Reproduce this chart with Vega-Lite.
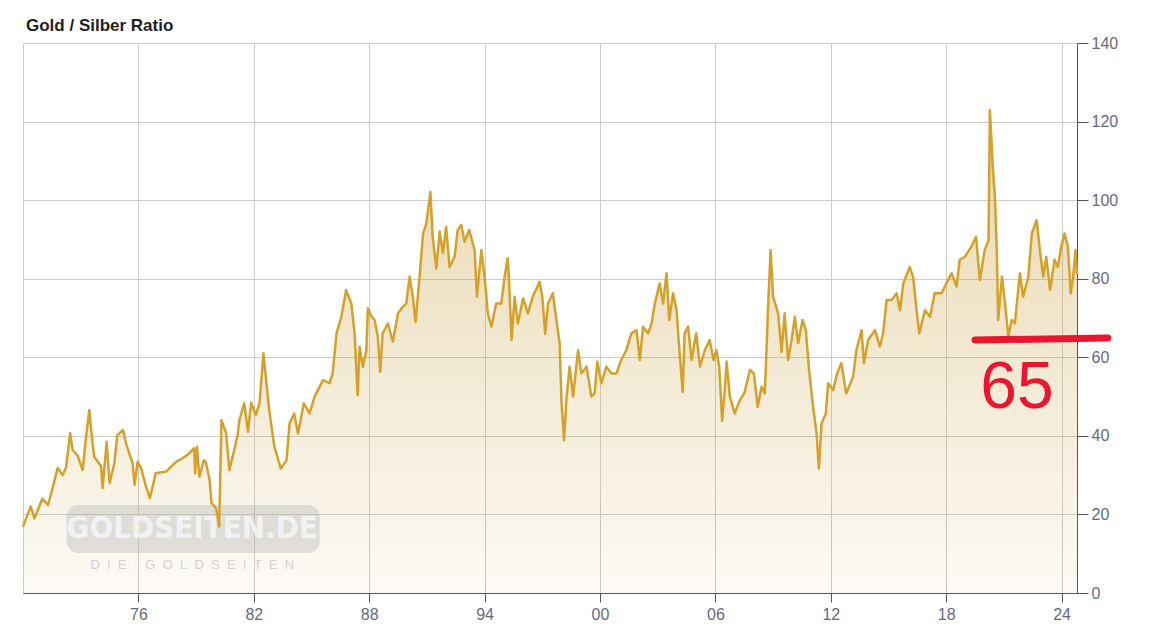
{
  "$schema": "https://vega.github.io/schema/vega-lite/v6.json",
  "width": 1054,
  "height": 550,
  "autosize": {"type": "none"},
  "padding": {"left": 23, "top": 43, "right": 73, "bottom": 44},
  "background": "white",
  "title": {"text": "Gold / Silber Ratio", "anchor": "start", "frame": "group", "fontSize": 17, "font": "Liberation Sans", "fontWeight": "bold", "color": "#1e1e24", "offset": 0, "dx": 3},
  "config": {"view": {"stroke": null}},
  "datasets": {
    "ratio": [
      {"year": 1970.0, "ratio": 16.9}, {"year": 1970.4, "ratio": 22}, {"year": 1970.6, "ratio": 19}, {"year": 1971.0, "ratio": 24},
      {"year": 1971.3, "ratio": 22.4}, {"year": 1971.5, "ratio": 26}, {"year": 1971.8, "ratio": 31.8}, {"year": 1972.06, "ratio": 30},
      {"year": 1972.24, "ratio": 32}, {"year": 1972.45, "ratio": 40.7}, {"year": 1972.58, "ratio": 36.4}, {"year": 1972.84, "ratio": 35},
      {"year": 1973.1, "ratio": 31.3}, {"year": 1973.28, "ratio": 39.8}, {"year": 1973.45, "ratio": 46.6}, {"year": 1973.54, "ratio": 41.5},
      {"year": 1973.7, "ratio": 34.7}, {"year": 1974.06, "ratio": 32.3}, {"year": 1974.14, "ratio": 26.7}, {"year": 1974.35, "ratio": 38.5},
      {"year": 1974.5, "ratio": 28}, {"year": 1974.75, "ratio": 33}, {"year": 1974.9, "ratio": 40.2}, {"year": 1975.2, "ratio": 41.5},
      {"year": 1975.36, "ratio": 38}, {"year": 1975.7, "ratio": 33}, {"year": 1975.8, "ratio": 27.5}, {"year": 1975.96, "ratio": 33.4},
      {"year": 1976.14, "ratio": 31.8}, {"year": 1976.4, "ratio": 27}, {"year": 1976.6, "ratio": 24.2}, {"year": 1976.9, "ratio": 30.5},
      {"year": 1977.44, "ratio": 30.9}, {"year": 1977.96, "ratio": 33.4}, {"year": 1978.3, "ratio": 34.3}, {"year": 1978.65, "ratio": 35.6},
      {"year": 1978.9, "ratio": 36.9}, {"year": 1978.95, "ratio": 30.5}, {"year": 1979.05, "ratio": 37.2}, {"year": 1979.17, "ratio": 29.6},
      {"year": 1979.4, "ratio": 33.8}, {"year": 1979.5, "ratio": 33.4}, {"year": 1979.7, "ratio": 28.8}, {"year": 1979.8, "ratio": 22.9},
      {"year": 1980.04, "ratio": 21.6}, {"year": 1980.2, "ratio": 16.9}, {"year": 1980.32, "ratio": 44}, {"year": 1980.56, "ratio": 40.7},
      {"year": 1980.73, "ratio": 31.3}, {"year": 1981.0, "ratio": 36.8}, {"year": 1981.16, "ratio": 40.2}, {"year": 1981.25, "ratio": 44},
      {"year": 1981.5, "ratio": 48.3}, {"year": 1981.7, "ratio": 41}, {"year": 1981.86, "ratio": 48.5}, {"year": 1982.1, "ratio": 45.3},
      {"year": 1982.3, "ratio": 48.3}, {"year": 1982.5, "ratio": 61}, {"year": 1982.64, "ratio": 54.2}, {"year": 1982.8, "ratio": 46.6},
      {"year": 1983.07, "ratio": 37.2}, {"year": 1983.4, "ratio": 31.7}, {"year": 1983.7, "ratio": 33.8}, {"year": 1983.86, "ratio": 43.2},
      {"year": 1984.1, "ratio": 45.7}, {"year": 1984.3, "ratio": 40.6}, {"year": 1984.6, "ratio": 48.3}, {"year": 1984.9, "ratio": 45.7},
      {"year": 1985.16, "ratio": 50}, {"year": 1985.6, "ratio": 54.2}, {"year": 1985.94, "ratio": 53.4}, {"year": 1986.1, "ratio": 55.9},
      {"year": 1986.3, "ratio": 66.1}, {"year": 1986.55, "ratio": 70.3}, {"year": 1986.8, "ratio": 77.1}, {"year": 1987.07, "ratio": 73.7},
      {"year": 1987.24, "ratio": 66.1}, {"year": 1987.4, "ratio": 50.4}, {"year": 1987.5, "ratio": 62.7}, {"year": 1987.67, "ratio": 57.6},
      {"year": 1987.85, "ratio": 61.8}, {"year": 1987.93, "ratio": 72.5}, {"year": 1988.1, "ratio": 70.5}, {"year": 1988.28, "ratio": 69.5},
      {"year": 1988.45, "ratio": 65.2}, {"year": 1988.57, "ratio": 56.3}, {"year": 1988.7, "ratio": 66.1}, {"year": 1988.97, "ratio": 68.6},
      {"year": 1989.23, "ratio": 64}, {"year": 1989.5, "ratio": 71.2}, {"year": 1989.75, "ratio": 72.9}, {"year": 1989.93, "ratio": 73.7},
      {"year": 1990.1, "ratio": 80.5}, {"year": 1990.27, "ratio": 75.4}, {"year": 1990.41, "ratio": 69}, {"year": 1990.62, "ratio": 80.5},
      {"year": 1990.8, "ratio": 91.5}, {"year": 1990.97, "ratio": 94.1}, {"year": 1991.18, "ratio": 102.1}, {"year": 1991.3, "ratio": 90.7},
      {"year": 1991.49, "ratio": 82.6}, {"year": 1991.66, "ratio": 92}, {"year": 1991.83, "ratio": 86.5}, {"year": 1992.0, "ratio": 93.2},
      {"year": 1992.18, "ratio": 83}, {"year": 1992.44, "ratio": 85.6}, {"year": 1992.6, "ratio": 92.4}, {"year": 1992.79, "ratio": 93.7},
      {"year": 1992.96, "ratio": 89.4}, {"year": 1993.2, "ratio": 92.4}, {"year": 1993.48, "ratio": 87.3}, {"year": 1993.6, "ratio": 75.4},
      {"year": 1993.83, "ratio": 87.3}, {"year": 1994.0, "ratio": 80.5}, {"year": 1994.17, "ratio": 71.2}, {"year": 1994.35, "ratio": 67.8},
      {"year": 1994.6, "ratio": 73.7}, {"year": 1994.87, "ratio": 73.7}, {"year": 1995.04, "ratio": 80.5}, {"year": 1995.2, "ratio": 85.2},
      {"year": 1995.27, "ratio": 79.7}, {"year": 1995.4, "ratio": 64.4}, {"year": 1995.56, "ratio": 75.4}, {"year": 1995.73, "ratio": 68.6},
      {"year": 1996.0, "ratio": 75}, {"year": 1996.25, "ratio": 71.2}, {"year": 1996.5, "ratio": 75.4}, {"year": 1996.86, "ratio": 79.2},
      {"year": 1997.0, "ratio": 75.4}, {"year": 1997.15, "ratio": 66}, {"year": 1997.3, "ratio": 73.7}, {"year": 1997.55, "ratio": 76.3},
      {"year": 1997.73, "ratio": 69.5}, {"year": 1997.9, "ratio": 63.6}, {"year": 1998.0, "ratio": 48.3}, {"year": 1998.13, "ratio": 38.9},
      {"year": 1998.25, "ratio": 49.1}, {"year": 1998.42, "ratio": 57.6}, {"year": 1998.6, "ratio": 50}, {"year": 1998.86, "ratio": 61.8},
      {"year": 1999.03, "ratio": 55.9}, {"year": 1999.3, "ratio": 57.6}, {"year": 1999.55, "ratio": 50}, {"year": 1999.72, "ratio": 50.8},
      {"year": 1999.86, "ratio": 58.9}, {"year": 2000.07, "ratio": 53.4}, {"year": 2000.33, "ratio": 57.6}, {"year": 2000.6, "ratio": 55.9},
      {"year": 2000.85, "ratio": 55.9}, {"year": 2001.1, "ratio": 59.3}, {"year": 2001.37, "ratio": 61.8}, {"year": 2001.63, "ratio": 66.1},
      {"year": 2001.9, "ratio": 66.9}, {"year": 2002.07, "ratio": 59.3}, {"year": 2002.24, "ratio": 67.8}, {"year": 2002.5, "ratio": 66.1},
      {"year": 2002.68, "ratio": 68.6}, {"year": 2002.85, "ratio": 73.7}, {"year": 2003.1, "ratio": 78.8}, {"year": 2003.28, "ratio": 73.7},
      {"year": 2003.46, "ratio": 81.4}, {"year": 2003.6, "ratio": 69.5}, {"year": 2003.8, "ratio": 76.3}, {"year": 2003.98, "ratio": 72},
      {"year": 2004.1, "ratio": 63.6}, {"year": 2004.3, "ratio": 51.2}, {"year": 2004.4, "ratio": 66.1}, {"year": 2004.58, "ratio": 67.8},
      {"year": 2004.76, "ratio": 59.3}, {"year": 2005.0, "ratio": 66.1}, {"year": 2005.2, "ratio": 57.6}, {"year": 2005.45, "ratio": 61.8},
      {"year": 2005.7, "ratio": 64.4}, {"year": 2005.9, "ratio": 59.3}, {"year": 2006.05, "ratio": 61.8}, {"year": 2006.2, "ratio": 57.6},
      {"year": 2006.35, "ratio": 43.8}, {"year": 2006.5, "ratio": 52.5}, {"year": 2006.58, "ratio": 58.9}, {"year": 2006.75, "ratio": 50},
      {"year": 2007.0, "ratio": 45.7}, {"year": 2007.27, "ratio": 49.1}, {"year": 2007.5, "ratio": 50.8}, {"year": 2007.8, "ratio": 56.8},
      {"year": 2008.0, "ratio": 55.9}, {"year": 2008.2, "ratio": 47.4}, {"year": 2008.4, "ratio": 52.5}, {"year": 2008.57, "ratio": 50.8},
      {"year": 2008.74, "ratio": 72.9}, {"year": 2008.87, "ratio": 87.3}, {"year": 2009.0, "ratio": 75.4}, {"year": 2009.26, "ratio": 71.2},
      {"year": 2009.44, "ratio": 61.4}, {"year": 2009.6, "ratio": 71.2}, {"year": 2009.78, "ratio": 59.3}, {"year": 2009.96, "ratio": 64.4},
      {"year": 2010.13, "ratio": 70.3}, {"year": 2010.3, "ratio": 63.6}, {"year": 2010.53, "ratio": 69.5}, {"year": 2010.7, "ratio": 66.9},
      {"year": 2010.87, "ratio": 56.8}, {"year": 2011.08, "ratio": 47.4}, {"year": 2011.26, "ratio": 40.6}, {"year": 2011.38, "ratio": 31.7},
      {"year": 2011.52, "ratio": 43.2}, {"year": 2011.74, "ratio": 45.7}, {"year": 2011.86, "ratio": 53.4}, {"year": 2012.12, "ratio": 51.7},
      {"year": 2012.33, "ratio": 55.9}, {"year": 2012.55, "ratio": 58.5}, {"year": 2012.8, "ratio": 50.8}, {"year": 2013.16, "ratio": 55.1},
      {"year": 2013.33, "ratio": 61.8}, {"year": 2013.6, "ratio": 66.9}, {"year": 2013.72, "ratio": 58.5}, {"year": 2013.94, "ratio": 64.4},
      {"year": 2014.3, "ratio": 66.9}, {"year": 2014.55, "ratio": 62.7}, {"year": 2014.72, "ratio": 66.1}, {"year": 2014.9, "ratio": 74.6},
      {"year": 2015.16, "ratio": 74.6}, {"year": 2015.42, "ratio": 76.3}, {"year": 2015.6, "ratio": 72}, {"year": 2015.77, "ratio": 78.8},
      {"year": 2016.1, "ratio": 83}, {"year": 2016.28, "ratio": 80.5}, {"year": 2016.46, "ratio": 72}, {"year": 2016.6, "ratio": 66.1},
      {"year": 2016.9, "ratio": 72}, {"year": 2017.16, "ratio": 70.3}, {"year": 2017.4, "ratio": 76.3}, {"year": 2017.76, "ratio": 76.3},
      {"year": 2018.0, "ratio": 78.8}, {"year": 2018.28, "ratio": 81.4}, {"year": 2018.54, "ratio": 78}, {"year": 2018.7, "ratio": 84.8},
      {"year": 2018.97, "ratio": 85.6}, {"year": 2019.3, "ratio": 88.1}, {"year": 2019.55, "ratio": 90.7}, {"year": 2019.75, "ratio": 79.7},
      {"year": 2020.0, "ratio": 87.3}, {"year": 2020.2, "ratio": 89.8}, {"year": 2020.27, "ratio": 122.9}, {"year": 2020.36, "ratio": 114.5},
      {"year": 2020.42, "ratio": 108.5}, {"year": 2020.53, "ratio": 100.9}, {"year": 2020.63, "ratio": 87.3}, {"year": 2020.7, "ratio": 69.5},
      {"year": 2020.9, "ratio": 80.5}, {"year": 2021.06, "ratio": 73.7}, {"year": 2021.23, "ratio": 65.2}, {"year": 2021.4, "ratio": 69.5},
      {"year": 2021.57, "ratio": 68.6}, {"year": 2021.83, "ratio": 81.4}, {"year": 2022.0, "ratio": 75.4}, {"year": 2022.27, "ratio": 80.5},
      {"year": 2022.45, "ratio": 91.5}, {"year": 2022.7, "ratio": 94.9}, {"year": 2022.87, "ratio": 87.3}, {"year": 2023.04, "ratio": 80.5},
      {"year": 2023.2, "ratio": 85.6}, {"year": 2023.4, "ratio": 77.1}, {"year": 2023.63, "ratio": 84.8}, {"year": 2023.8, "ratio": 83},
      {"year": 2023.98, "ratio": 88.1}, {"year": 2024.15, "ratio": 91.5}, {"year": 2024.33, "ratio": 88.1}, {"year": 2024.47, "ratio": 76.3},
      {"year": 2024.6, "ratio": 80.5}, {"year": 2024.72, "ratio": 87.3}, {"year": 2024.8, "ratio": 81}
    ],
    "note": [{"xa": 2019.5, "xb": 2026.4, "ya": 64.4, "yb": 64.9}],
    "noteText": [{"xt": 2021.68, "yt": 52.2, "label": "65"}],
    "wmBox": [{"xa": 1972.26, "xb": 1985.43, "ya": 10.2, "yb": 22.4}],
    "wmText": [
      {"xt": 1978.8, "yt": 16.3, "label": "GOLDSEITEN.DE", "kind": "main"},
      {"xt": 1978.8, "yt": 7.1, "label": "D\u00a0\u00a0I\u00a0\u00a0E\u00a0\u00a0·\u00a0\u00a0G\u00a0\u00a0O\u00a0\u00a0L\u00a0\u00a0D\u00a0\u00a0S\u00a0\u00a0E\u00a0\u00a0I\u00a0\u00a0T\u00a0\u00a0E\u00a0\u00a0N", "kind": "sub"}
    ]
  },
  "layer": [
    {
      "data": {"name": "ratio"},
      "mark": {"type": "area", "line": false, "color": {"gradient": "linear", "x1": 0, "y1": 0, "x2": 0, "y2": 1, "stops": [{"offset": 0, "color": "rgba(200,160,60,0.42)"}, {"offset": 1, "color": "rgba(200,160,60,0.05)"}]}},
      "encoding": {
        "x": {"field": "year", "type": "quantitative", "scale": {"domain": [1970, 2024.8], "nice": false, "zero": false},
          "axis": {"values": [1970, 1976, 1982, 1988, 1994, 2000, 2006, 2012, 2018, 2024], "labelExpr": "datum.value == 1970 ? '' : slice('0' + (datum.value % 100), -2)", "title": null, "grid": true, "gridColor": "#cccccc", "gridOpacity": 1, "domainColor": "#555555", "tickColor": "#555555", "tickSize": 9, "labelFontSize": 16, "labelColor": "#666a7a", "labelFont": "Liberation Sans", "labelPadding": 4, "labelFlush": false, "tickOpacity": {"condition": {"test": "datum.value == 1970", "value": 0}, "value": 1}}},
        "y": {"field": "ratio", "type": "quantitative", "scale": {"domain": [0, 140], "nice": false},
          "axis": {"orient": "right", "values": [0, 20, 40, 60, 80, 100, 120, 140], "title": null, "grid": true, "gridColor": "#cccccc", "gridOpacity": 1, "domainColor": "#555555", "tickColor": "#555555", "tickSize": 11, "labelPadding": 3, "labelFontSize": 16, "labelColor": "#666a7a", "labelFont": "Liberation Sans", "labelFlush": false}}
      }
    },
    {
      "data": {"name": "wmBox"},
      "mark": {"type": "rect", "cornerRadius": 12, "fill": "#b8b8b8", "opacity": 0.4},
      "encoding": {
        "x": {"field": "xa", "type": "quantitative", "axis": {"title": null}},
        "x2": {"field": "xb"},
        "y": {"field": "ya", "type": "quantitative", "axis": {"title": null}},
        "y2": {"field": "yb"}
      }
    },
    {
      "data": {"name": "wmText"},
      "transform": [{"filter": "datum.kind == 'main'"}],
      "mark": {"type": "text", "font": "DejaVu Sans Condensed", "fontWeight": "bold", "fontSize": 31, "fill": "#f2f2f2", "align": "center", "baseline": "middle"},
      "encoding": {
        "x": {"field": "xt", "type": "quantitative", "axis": {"title": null}},
        "y": {"field": "yt", "type": "quantitative", "axis": {"title": null}},
        "text": {"field": "label"}
      }
    },
    {
      "data": {"name": "wmText"},
      "transform": [{"filter": "datum.kind == 'sub'"}],
      "mark": {"type": "text", "font": "Liberation Sans", "fontSize": 13, "fill": "#d2d2d2", "align": "center", "baseline": "middle"},
      "encoding": {
        "x": {"field": "xt", "type": "quantitative", "axis": {"title": null}},
        "y": {"field": "yt", "type": "quantitative", "axis": {"title": null}},
        "text": {"field": "label"}
      }
    },
    {
      "data": {"name": "ratio"},
      "mark": {"type": "line", "color": "#d4a12a", "strokeWidth": 2.5, "strokeJoin": "round"},
      "encoding": {
        "x": {"field": "year", "type": "quantitative", "axis": {"title": null}},
        "y": {"field": "ratio", "type": "quantitative", "axis": {"title": null}}
      }
    },
    {
      "data": {"name": "note"},
      "mark": {"type": "rule", "color": "#e8162f", "strokeWidth": 7, "strokeCap": "round", "clip": false},
      "encoding": {
        "x": {"field": "xa", "type": "quantitative", "axis": {"title": null}},
        "x2": {"field": "xb"},
        "y": {"field": "ya", "type": "quantitative", "axis": {"title": null}},
        "y2": {"field": "yb"}
      }
    },
    {
      "data": {"name": "noteText"},
      "mark": {"type": "text", "font": "Liberation Sans", "fontSize": 66, "fill": "#e8162f", "align": "center", "baseline": "middle"},
      "encoding": {
        "x": {"field": "xt", "type": "quantitative", "axis": {"title": null}},
        "y": {"field": "yt", "type": "quantitative", "axis": {"title": null}},
        "text": {"field": "label"}
      }
    }
  ]
}
